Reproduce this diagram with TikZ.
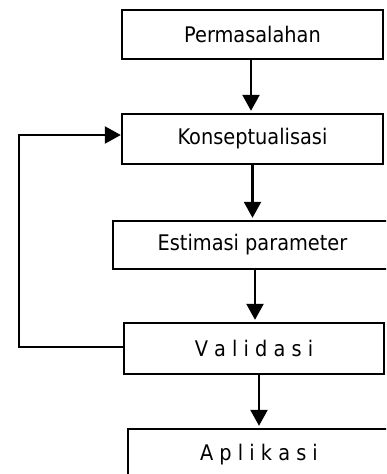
\documentclass[tikz,border=0pt]{standalone}
\usepackage{fontspec}
\setmainfont{DejaVu Sans Condensed}
\usetikzlibrary{arrows.meta}

\tikzset{
	box/.style={draw, line width=2.4pt, inner sep=0pt, font=\fontsize{21.5}{24}\selectfont},
	flow/.style={line width=2.4pt, -{Triangle[length=16pt,width=17pt]}, shorten >=2pt}
}

\begin{document}
\begin{tikzpicture}[x=1pt, y=-1pt]
		%%%%% START %%%%%
		\useasboundingbox (0, 0) rectangle (386, 474);
		\clip (0, 0) rectangle (386, 474);
		
		\node[box, minimum width=261pt, minimum height=49pt] (masalah) at (252.5, 34.5) {Permasalahan};
		\node[box, minimum width=261pt, minimum height=50pt] (konsep) at (252.5, 139) {Konseptualisasi};
		\node[box, minimum width=279pt, minimum height=48pt] (estimasi) at (252.5, 245) {Estimasi parameter};
		\node[box, minimum width=260pt, minimum height=51pt] (validasi) at (254, 348.5) {V a l i d a s i};
		\node[box, minimum width=262pt, minimum height=51pt] (aplikasi) at (259, 454.5) {A p l i k a s i};
		
		\draw[flow] ([xshift=-1.5pt]konsep.north |- masalah.south) -- ([xshift=-1.5pt]konsep.north);
		\draw[flow] (estimasi.north |- konsep.south) -- (estimasi.north);
		\draw[flow] ([xshift=1pt]validasi.north |- estimasi.south) -- ([xshift=1pt]validasi.north);
		\draw[flow] (aplikasi.north |- validasi.south) -- (aplikasi.north);
		
		% balik ke konseptualisasi
		\coordinate (balik) at (19, 347);
		\draw[flow, shorten >=0pt] (validasi.west |- balik) -- (balik) |- ([yshift=4pt]konsep.west);
		
		%%%%% END %%%%%
	\end{tikzpicture}
\end{document}
